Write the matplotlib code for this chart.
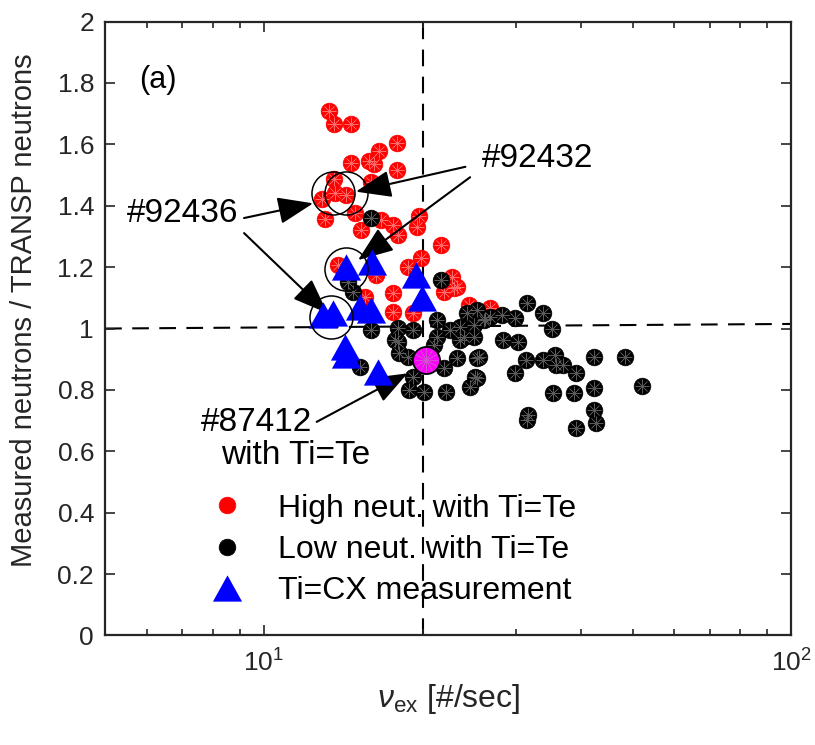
import numpy as np
import matplotlib.pyplot as plt

plt.rcParams['font.family'] = ['Liberation Sans', 'DejaVu Sans']
plt.rcParams['mathtext.fontset'] = 'custom'
plt.rcParams['mathtext.rm'] = 'Liberation Sans'
plt.rcParams['mathtext.it'] = 'Liberation Sans:italic'

# high neutron shots with Ti=Te
high_x = [13.28, 13.57, 14.64, 17.87, 16.56, 15.81, 16.16, 14.64, 17.87, 13.57,
          15.97, 13.63, 14.33, 12.86, 13.05, 14.90, 15.29, 16.68, 17.54, 17.93,
          19.69, 19.49, 21.63, 19.83, 18.72, 13.83, 16.32, 22.75, 22.91, 21.95,
          17.54, 17.54, 19.13, 24.45, 26.85, 15.52, 23.25]
high_y = [1.709, 1.666, 1.666, 1.603, 1.579, 1.547, 1.536, 1.538, 1.516, 1.486,
          1.478, 1.440, 1.435, 1.421, 1.356, 1.375, 1.321, 1.353, 1.337, 1.305,
          1.366, 1.332, 1.272, 1.229, 1.201, 1.207, 1.174, 1.169, 1.131, 1.120,
          1.117, 1.055, 1.050, 1.077, 1.066, 1.104, 1.136]

# low neutron shots with Ti=Te
low_x = [15.93, 21.63, 14.44, 14.75, 15.97, 17.93, 19.13, 17.93, 18.06, 18.72,
         21.32, 21.32, 22.58, 23.58, 24.27, 23.93, 24.99, 25.54, 23.25, 21.95,
         19.13, 25.16, 24.62, 18.86, 20.12, 22.10, 15.19, 26.09, 26.85, 31.47,
         33.84, 28.24, 29.92, 35.22, 26.27, 28.45, 30.36, 25.35, 31.37, 33.84,
         35.57, 35.84, 36.90, 42.30, 48.31, 29.92, 39.08, 25.35, 35.33, 38.79,
         42.30, 52.16, 31.70, 31.47, 42.30, 42.61, 39.08, 25.0, 23.58, 21.02,
         25.35, 17.7]
low_y = [1.359, 1.158, 1.152, 1.120, 0.995, 1.001, 0.995, 0.957, 0.919, 0.908,
         1.028, 0.973, 0.995, 1.006, 1.050, 0.973, 0.973, 0.908, 0.903, 0.870,
         0.843, 0.843, 0.810, 0.800, 0.794, 0.794, 0.876, 1.028, 1.038, 1.084,
         1.050, 1.044, 1.033, 0.997, 1.030, 0.963, 0.955, 0.903, 0.897, 0.897,
         0.914, 0.881, 0.881, 0.906, 0.906, 0.854, 0.854, 0.838, 0.789, 0.789,
         0.805, 0.813, 0.718, 0.702, 0.735, 0.693, 0.675, 1.011, 0.963, 0.946,
         1.060, 0.963]

# Ti from CX measurement
cx_x = [14.33, 16.02, 19.41, 19.98, 12.96, 13.53, 15.19, 15.97, 14.24, 14.33, 16.44]
cx_y = [1.201, 1.218, 1.174, 1.098, 1.044, 1.050, 1.071, 1.060, 0.941, 0.914, 0.859]

# shot #87412
ref_x = [20.26]
ref_y = [0.897]

# circled shots
circ_x = [13.5, 14.3, 14.3, 13.4]
circ_y = [1.442, 1.440, 1.193, 1.036]

# reference lines
vline_x = 20
hline_x = [5, 100]
hline_y = [1.0, 1.015]

ytick_vals = [0, 0.2, 0.4, 0.6, 0.8, 1, 1.2, 1.4, 1.6, 1.8, 2]
ytick_labels = ['0', '0.2', '0.4', '0.6', '0.8', '1', '1.2', '1.4', '1.6', '1.8', '2']
xtick_vals = [10, 100]
xtick_labels = ['$10^1$', '$10^2$']

axcol = '#262626'

fig = plt.figure(figsize=(8.15, 7.45), dpi=100)
ax = fig.add_axes([0.129, 0.147, 0.842, 0.824])

dash = (0, (8, 5))
ax.plot([vline_x, vline_x], [0, 2], color='k', lw=1.5, ls=dash, zorder=1)
ax.plot(hline_x, hline_y, color='k', lw=1.5, ls=dash, zorder=1)

h1, = ax.plot(high_x, high_y, 'o', color='red', ms=12, mec='red', mew=0.5,
              label='High neut. with Ti=Te', zorder=3)
ax.plot(high_x, high_y, marker=(8, 2, 0), ls='none', ms=10, mec='#ff6a6a', mew=0.4, zorder=3)
h2, = ax.plot(low_x, low_y, 'o', color='k', ms=12, mew=0.5,
              label='Low neut. with Ti=Te', zorder=4)
ax.plot(low_x, low_y, marker=(8, 2, 0), ls='none', ms=10, mec='#5a5a5a', mew=0.4, zorder=4)

tri = [(-1, -0.9), (1, -0.9), (0, 0.9), (-1, -0.9)]
h3, = ax.plot(cx_x, cx_y, marker=tri, ls='none', color='blue', ms=21, mew=0,
              label='Ti=CX measurement', zorder=5)

ax.plot(ref_x, ref_y, 'o', mfc='#ff00ff', mec='k', ms=19.5, mew=1.3, zorder=6)
ax.plot(ref_x, ref_y, marker=(12, 2, 0), ls='none', ms=17, mec='#d050d0', mew=0.4, zorder=6)

ax.plot(circ_x, circ_y, 'o', mfc='none', mec='k', ms=31, mew=1.1, zorder=7)

ax.set_xscale('log')
ax.set_xlim(5, 100)
ax.set_ylim(0, 2)
ax.set_xticks(xtick_vals)
ax.set_xticklabels(xtick_labels)
ax.xaxis.set_minor_formatter(plt.NullFormatter())
ax.set_yticks(ytick_vals)
ax.set_yticklabels(ytick_labels)

ax.tick_params(which='both', direction='in', top=True, right=True,
               color=axcol, labelcolor=axcol, width=1.2)
ax.tick_params(which='major', length=7, pad=8)
ax.tick_params(which='minor', length=4)
ax.tick_params(axis='y', labelsize=19)
ax.tick_params(axis='x', labelsize=19, pad=10)
for s in ax.spines.values():
    s.set_linewidth(1.6)
    s.set_color(axcol)

ax.set_xlabel(r'$\nu_{\mathrm{ex}}$ [#/sec]', fontsize=23, color=axcol, labelpad=4)
ax.set_ylabel('Measured neutrons / TRANSP neutrons', fontsize=21, color=axcol)
ax.yaxis.set_label_coords(-0.098, 0.53)

ax.text(6.29, 1.81, '(a)', fontsize=22, ha='center', va='center')

arrow = dict(arrowstyle='-|>,head_length=1.1,head_width=0.42', color='k', lw=1.5,
             mutation_scale=20, shrinkA=0, shrinkB=0)
ax.text(5.50, 1.376, '#92436', fontsize=24, ha='left', va='center')
ax.annotate('', xy=(12.4, 1.408), xytext=(9.17, 1.360), arrowprops=arrow)
ax.annotate('', xy=(13.2, 1.050), xytext=(9.17, 1.311), arrowprops=arrow)

ax.text(25.9, 1.554, '#92432', fontsize=24, ha='left', va='center')
ax.annotate('', xy=(14.94, 1.446), xytext=(24.1, 1.527), arrowprops=arrow)
ax.annotate('', xy=(15.08, 1.223), xytext=(24.6, 1.493), arrowprops=arrow)

ax.text(7.60, 0.693, '#87412', fontsize=24, ha='left', va='center')
ax.text(8.29, 0.588, 'with Ti=Te', fontsize=24, ha='left', va='center')
ax.annotate('', xy=(18.72, 0.854), xytext=(12.59, 0.696), arrowprops=arrow)

leg = ax.legend(handles=[h1, h2, h3], loc='upper left', bbox_to_anchor=(0.108, 0.278),
                frameon=False, fontsize=23, handlelength=1.2, handletextpad=1.0,
                labelspacing=0.35, borderpad=0.4)
for t in leg.get_texts():
    t.set_color('k')

fig.savefig('out.png', dpi=100)
